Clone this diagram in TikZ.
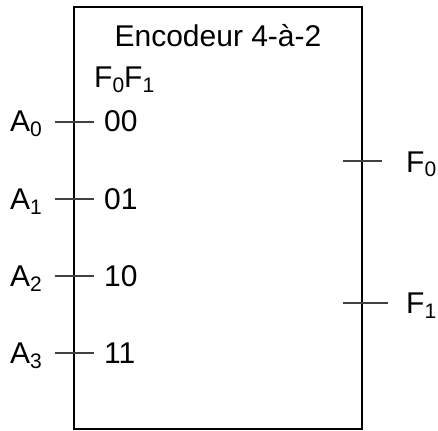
\documentclass[tikz,border=0pt]{standalone}
\usepackage{fontspec}
\setmainfont{Liberation Sans}
\usetikzlibrary{positioning}
\newcommand{\idx}[1]{\raisebox{-5pt}{\fontsize{21}{24}\selectfont #1}}

\begin{document}
\begin{tikzpicture}[x=1pt,y=-1pt,font=\fontsize{30}{36}\selectfont]
		\useasboundingbox (0,0) rectangle (438,430);
		\draw [line width=1.3pt] (74,7) rectangle (362,429);
		\node[anchor=base, inner sep=0] (titre) at (218,47) {Encodeur 4-à-2};
		\node[anchor=base west, inner sep=0] (sorties) at (94,88) {F\idx{0}F\idx{1}};
		% entrees
		\foreach \i/\code in {0/00,1/01,2/10,3/11} {
			\coordinate (a\i l) at (55,122+77*\i);
			\coordinate (a\i r) at (94,122+77*\i);
			\draw [black!75, line width=1.1pt] (a\i l) -- (a\i r);
			\node[anchor=base west, inner sep=0] (a\i) at (10,132+77*\i) {A\idx{\i}};
			\node[anchor=base west, inner sep=0] (c\i) at (104,132+77*\i) {\code};
		}
		% sorties
		\coordinate (f0l) at (343,161);
		\coordinate (f0r) at (382,161);
		\coordinate (f1l) at (343,303);
		\coordinate (f1r) at (388,303);
		\draw [black!75, line width=1.1pt] (f0l) -- (f0r);
		\draw [black!75, line width=1.1pt] (f1l) -- (f1r);
		\node[anchor=base west, inner sep=0] (f0) at (406,172) {F\idx{0}};
		\node[anchor=base west, inner sep=0] (f1) at (406,313) {F\idx{1}};
\end{tikzpicture}
\end{document}
